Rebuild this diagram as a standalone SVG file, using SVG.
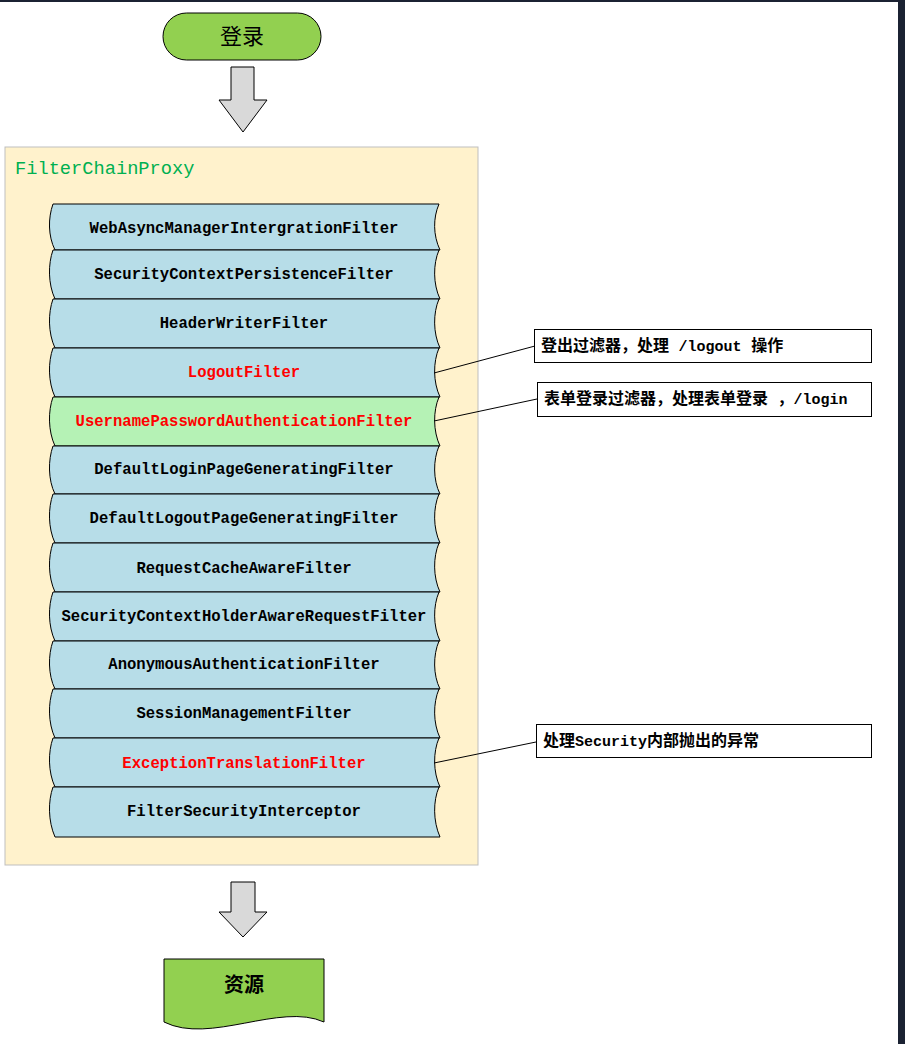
<svg xmlns="http://www.w3.org/2000/svg" width="905" height="1044" viewBox="0 0 905 1044">
<style>
.ft{font-family:"Liberation Mono","Noto Sans CJK SC",monospace;font-size:15.6px;font-weight:bold;text-anchor:middle;fill:#000}
.red{fill:#ff0000}
.flt{fill:#b7dde8;stroke:#000;stroke-width:1}
.cb{fill:#fff;stroke:#000;stroke-width:1}
.ct{font-family:"Liberation Mono","Noto Sans CJK SC",monospace;font-size:15px;font-weight:bold;fill:#000}
.cj{font-size:16px}
.ld{stroke:#000;stroke-width:1;fill:none}
.arr{fill:#d9d9d9;stroke:#000;stroke-width:1}
</style>
<rect x="0" y="0" width="905" height="1044" fill="#fff"/>
<rect x="0" y="0" width="905" height="2" fill="#1b2232"/>
<rect x="898" y="0" width="7" height="1044" fill="#1b2232"/>

<g id="login">
<rect x="163" y="13" width="158" height="47" rx="23.5" ry="23.5" fill="#92d050" stroke="#000" stroke-width="1"/>
<text x="242" y="44" font-family="'Noto Sans CJK SC',sans-serif" font-size="22" text-anchor="middle" fill="#000">登录</text>
</g>

<g id="arrow1">
<path class="arr" d="M231,67 H254 V100 H267 L243,132 L219,100 H231 Z"/>
</g>

<g id="filterChainProxy">
<rect x="5" y="147" width="473" height="718" fill="#fff2cc" stroke="#bfbfbf" stroke-width="1"/>
<text x="15" y="174" font-family="'Liberation Mono',monospace" font-size="18.7" fill="#00b050">FilterChainProxy</text>
</g>

<g id="filters">
<g id="f1"><path class="flt" d="M53,204 L439,204 C433,218 433,235 440,250 L55,250 C48,236 48,218 53,204 Z"/><text class="ft" x="244" y="233">WebAsyncManagerIntergrationFilter</text></g>
<g id="f2"><path class="flt" d="M53,250 L439,250 C433,264 433,284 440,299 L55,299 C48,284 48,264 53,250 Z"/><text class="ft" x="244" y="279">SecurityContextPersistenceFilter</text></g>
<g id="f3"><path class="flt" d="M53,299 L439,299 C433,313 433,333 440,348 L55,348 C48,333 48,313 53,299 Z"/><text class="ft" x="244" y="328">HeaderWriterFilter</text></g>
<g id="f4"><path class="flt" d="M53,348 L439,348 C433,362 433,382 440,397 L55,397 C48,382 48,362 53,348 Z"/><text class="ft red" x="244" y="377">LogoutFilter</text></g>
<g id="f5"><path class="flt" style="fill:#b5f2b5" d="M53,397 L439,397 C433,411 433,431 440,446 L55,446 C48,431 48,411 53,397 Z"/><text class="ft red" x="244" y="426">UsernamePasswordAuthenticationFilter</text></g>
<g id="f6"><path class="flt" d="M53,446 L439,446 C433,460 433,480 440,494 L55,494 C48,480 48,460 53,446 Z"/><text class="ft" x="244" y="474">DefaultLoginPageGeneratingFilter</text></g>
<g id="f7"><path class="flt" d="M53,494 L439,494 C433,508 433,528 440,543 L55,543 C48,528 48,508 53,494 Z"/><text class="ft" x="244" y="523">DefaultLogoutPageGeneratingFilter</text></g>
<g id="f8"><path class="flt" d="M53,543 L439,543 C433,557 433,577 440,592 L55,592 C48,577 48,557 53,543 Z"/><text class="ft" x="244" y="573">RequestCacheAwareFilter</text></g>
<g id="f9"><path class="flt" d="M53,592 L439,592 C433,606 433,626 440,641 L55,641 C48,626 48,606 53,592 Z"/><text class="ft" x="244" y="621">SecurityContextHolderAwareRequestFilter</text></g>
<g id="f10"><path class="flt" d="M53,641 L439,641 C433,655 433,675 440,689 L55,689 C48,675 48,655 53,641 Z"/><text class="ft" x="244" y="669">AnonymousAuthenticationFilter</text></g>
<g id="f11"><path class="flt" d="M53,689 L439,689 C433,703 433,723 440,738 L55,738 C48,723 48,703 53,689 Z"/><text class="ft" x="244" y="718">SessionManagementFilter</text></g>
<g id="f12"><path class="flt" d="M53,738 L439,738 C433,752 433,772 440,787 L55,787 C48,772 48,752 53,738 Z"/><text class="ft red" x="244" y="768">ExceptionTranslationFilter</text></g>
<g id="f13"><path class="flt" d="M53,787 L439,787 C433,801 433,821 440,837 L55,837 C48,821 48,801 53,787 Z"/><text class="ft" x="244" y="816">FilterSecurityInterceptor</text></g>
</g>

<g id="connectors">
<line class="ld" x1="434" y1="373" x2="535" y2="346"/>
<line class="ld" x1="434" y1="421" x2="537" y2="399"/>
<line class="ld" x1="434" y1="763" x2="536" y2="742"/>
</g>

<g id="note1">
<rect class="cb" x="534.5" y="329.5" width="337" height="33"/>
<text class="ct" x="541" y="351"><tspan class="cj">登出过滤器，处理 </tspan>/logout<tspan class="cj"> 操作</tspan></text>
</g>
<g id="note2">
<rect class="cb" x="537.5" y="382.5" width="334" height="34"/>
<text class="ct" x="544" y="404"><tspan class="cj">表单登录过滤器，处理表单登录 ，</tspan>/login</text>
</g>
<g id="note3">
<rect class="cb" x="536.5" y="724.5" width="335" height="33"/>
<text class="ct" x="543" y="746"><tspan class="cj">处理</tspan>Security<tspan class="cj">内部抛出的异常</tspan></text>
</g>

<g id="arrow2">
<path class="arr" d="M231,882 H255 V912 H267 L243,937 L219,912 H231 Z"/>
</g>

<g id="resource">
<path d="M164,959 H324 V1022 C280,1002 210,1045 164,1022 Z" fill="#92d050" stroke="#000" stroke-width="1"/>
<text x="244" y="992" font-family="'Noto Sans CJK SC',sans-serif" font-size="20" font-weight="bold" text-anchor="middle" fill="#000">资源</text>
</g>
</svg>
